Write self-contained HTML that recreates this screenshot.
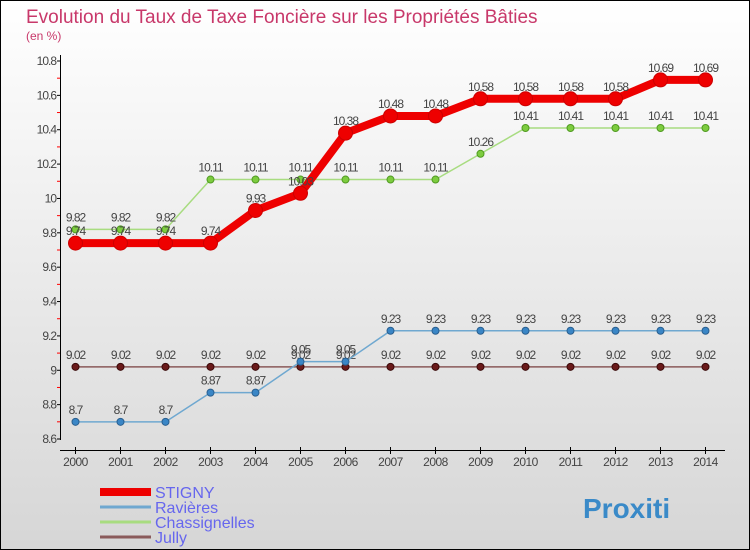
<!DOCTYPE html>
<html><head><meta charset="utf-8"><style>
body{margin:0}
#wrap{width:748px;height:548px;border:1px solid #000;background:linear-gradient(#ffffff,#d6d6d6);position:relative;font-family:"Liberation Sans",sans-serif}
</style></head><body>
<div id="wrap">
<svg id="chart" width="748" height="548" viewBox="1 1 748 548" style="position:absolute;left:0;top:0">
<text x="26" y="23" font-size="19" fill="#c8386a">Evolution du Taux de Taxe Foncière sur les Propriétés Bâties</text>
<text x="26" y="40" font-size="12" fill="#c8386a">(en %)</text>
<g id="axes"></g><g id="series"></g><g id="legend"></g>
</svg>
</div>
<script>
const years=[2000,2001,2002,2003,2004,2005,2006,2007,2008,2009,2010,2011,2012,2013,2014];
const yTicks=[8.6,8.8,9,9.2,9.4,9.6,9.8,10,10.2,10.4,10.6,10.8];
const seriesNames=["STIGNY","Ravières","Chassignelles","Jully"];
const stigny=[9.74,9.74,9.74,9.74,9.93,10.03,10.38,10.48,10.48,10.58,10.58,10.58,10.58,10.69,10.69];
const ravieres=[8.7,8.7,8.7,8.87,8.87,9.05,9.05,9.23,9.23,9.23,9.23,9.23,9.23,9.23,9.23];
const chassignelles=[9.82,9.82,9.82,10.11,10.11,10.11,10.11,10.11,10.11,10.26,10.41,10.41,10.41,10.41,10.41];
const jully=[9.02,9.02,9.02,9.02,9.02,9.02,9.02,9.02,9.02,9.02,9.02,9.02,9.02,9.02,9.02];

const NS="http://www.w3.org/2000/svg";
const X=y=>75.5+(y-2000)*45;
const Y=v=>439-(v-8.6)*(378/2.2);
function mk(tag,attrs,parent,txt){const e=document.createElementNS(NS,tag);for(const k in attrs)e.setAttribute(k,attrs[k]);if(txt!==undefined)e.textContent=txt;parent.appendChild(e);return e;}
const axes=document.getElementById('axes');
let e=mk('line',{x1:60.5,y1:55,x2:60.5,y2:440,stroke:'#000','stroke-width':1},axes);

e=mk('line',{x1:60,y1:450.5,x2:725,y2:450.5,stroke:'#000','stroke-width':1},axes);

yTicks.forEach((t,i)=>{
 mk('line',{x1:57,x2:61,y1:Y(t),y2:Y(t),stroke:'#000'},axes);
 if(i<yTicks.length-1) mk('line',{x1:57,x2:60,y1:Y(t+0.1),y2:Y(t+0.1),stroke:'#f00'},axes);
 const l=mk('text',{x:56,y:Y(t)+4,'font-size':12,fill:'#444','text-anchor':'end','letter-spacing':'-1'},axes,String(t));
 
});
years.forEach(yr=>{
 mk('line',{x1:X(yr),x2:X(yr),y1:447,y2:454,stroke:'#000'},axes);
 const l=mk('text',{x:X(yr),y:466,'font-size':12,fill:'#444','text-anchor':'middle','letter-spacing':'-0.5'},axes,String(yr));
 
});
const sg=document.getElementById('series');
const styles=[
 {data:stigny,color:'#ee0000',w:8,r:7,fill:'#ee0000',stroke:'#cc0000',name:'stigny'},
 {data:ravieres,color:'#6fa8d0',w:1.5,r:3.5,fill:'#3a86c6',stroke:'#2a5f8f',name:'ravieres'},
 {data:chassignelles,color:'#a8dc80',w:1.5,r:3.5,fill:'#7dcc3f',stroke:'#4f9a20',name:'chassignelles'},
 {data:jully,color:'#8a5a5a',w:1.5,r:3.5,fill:'#6a1a1a',stroke:'#3a0a0a',name:'jully'}];
[3,1,2,0].forEach(si=>{
 const s=styles[si];const g=mk('g',{},sg);
 
 const p=mk('polyline',{points:s.data.map((v,i)=>X(years[i])+','+Y(v)).join(' '),fill:'none',stroke:s.color,'stroke-width':s.w},g);
 
 s.data.forEach((v,i)=>{
  const c=mk('circle',{cx:X(years[i]),cy:Y(v),r:s.r,fill:s.fill,stroke:s.stroke},g);
  
  const t=mk('text',{x:X(years[i]),y:Y(v)-8,'font-size':12,fill:'#444','text-anchor':'middle','letter-spacing':'-1'},g,String(v));
  
 });
});
const lg=document.getElementById('legend');
const ly=[492,507,522,537];
seriesNames.forEach((n,i)=>{
 const s=styles[i];
 const l=mk('line',{x1:100,x2:151,y1:ly[i],y2:ly[i],stroke:s.color,'stroke-width':i==0?8:3},lg);
 
 const t=mk('text',{x:155,y:ly[i]+6,'font-size':16,fill:'#6666ee'},lg,n);
 
});
const lo=mk('text',{x:583,y:518,'font-size':28,'font-weight':'bold',fill:'#3a8ac8'},lg,'Proxiti');

</script>
</body></html>
